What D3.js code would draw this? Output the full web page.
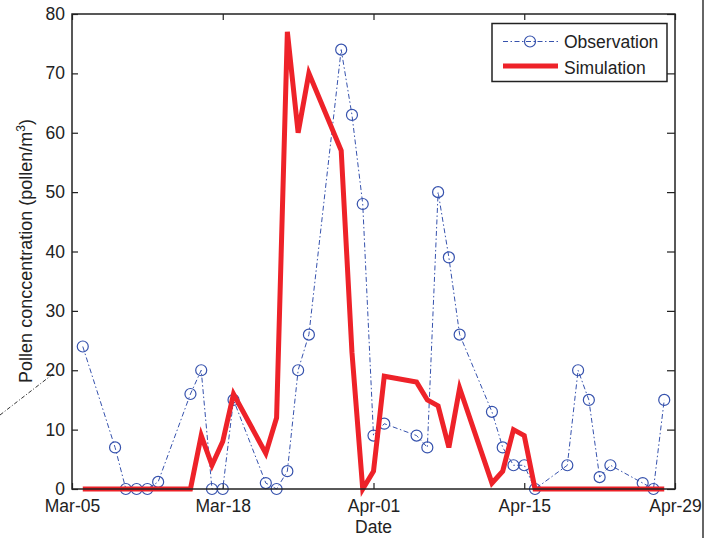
<!DOCTYPE html>
<html>
<head>
<meta charset="utf-8">
<script src="https://cdn.jsdelivr.net/npm/d3@7"></script>
<style>
  body { margin: 0; background: #fff; }
  text { font-family: Arial, "Liberation Sans", sans-serif; fill: #222; }
</style>
</head>
<body>
<div id="chart"></div>
<script>
// sampling days (weekdays only)
const dates = [
  "2010-03-05", "2010-03-08", "2010-03-09", "2010-03-10", "2010-03-11", "2010-03-12",
  "2010-03-15", "2010-03-16", "2010-03-17", "2010-03-18", "2010-03-19",
  "2010-03-22", "2010-03-23", "2010-03-24", "2010-03-25", "2010-03-26",
  "2010-03-29", "2010-03-30", "2010-03-31", "2010-04-01", "2010-04-02",
  "2010-04-05", "2010-04-06", "2010-04-07", "2010-04-08", "2010-04-09",
  "2010-04-12", "2010-04-13", "2010-04-14", "2010-04-15", "2010-04-16",
  "2010-04-19", "2010-04-20", "2010-04-21", "2010-04-22", "2010-04-23",
  "2010-04-26", "2010-04-27", "2010-04-28"
];
const observation = [
  24, 7, 0, 0, 0, 1.2,
  16, 20, 0, 0, 15,
  1, 0, 3, 20, 26,
  74, 63, 48, 9, 11,
  9, 7, 50, 39, 26,
  13, 7, 4, 4, 0,
  4, 20, 15, 2, 4,
  1, 0, 15
];
const simulation = [
  0, 0, 0, 0, 0, 0,
  0, 9, 4, 8, 16,
  6, 12, 77, 60, 70,
  57, 23, 0, 3, 19,
  18, 15, 14, 7, 17,
  1, 3, 10, 9, 0,
  0, 0, 0, 0, 0,
  0, 0, 0
];
const xTickDates = ["2010-03-04", "2010-03-18", "2010-04-01", "2010-04-15", "2010-04-29"];
const xTickLabels = ["Mar-05", "Mar-18", "Apr-01", "Apr-15", "Apr-29"];
const yTicks = [0, 10, 20, 30, 40, 50, 60, 70, 80];

const width = 713, height = 538;
const margin = { top: 14, right: 38, bottom: 49, left: 72 };
const blue = "#3652ad", red = "#ee2229";
const fs = "17.5px";
const parse = d3.utcParse("%Y-%m-%d");

const svg = d3.select("#chart").append("svg")
  .attr("width", width)
  .attr("height", height);

const x = d3.scaleUtc()
  .domain([parse("2010-03-04"), parse("2010-04-29")])
  .range([margin.left, width - margin.right]);
const y = d3.scaleLinear()
  .domain([0, 80])
  .range([height - margin.bottom, margin.top]);

const obs = dates.map((d, i) => ({ date: parse(d), value: observation[i] }));
const sim = dates.map((d, i) => ({ date: parse(d), value: simulation[i] }));

// stray figure lines outside the axes
svg.append("line")
  .attr("x1", 703).attr("x2", 703).attr("y1", 0).attr("y2", height)
  .attr("stroke", "#333").attr("stroke-width", 1.5);
svg.append("line")
  .attr("x1", 0).attr("y1", 415).attr("x2", 53).attr("y2", 374)
  .attr("stroke", "#333").attr("stroke-width", 1)
  .attr("stroke-dasharray", "4,2,1,2");

// axes (ticks inward, mirrored on top/right)
const tickVals = xTickDates.map(parse);
const xAxis = d3.axisBottom(x).tickValues(tickVals)
  .tickFormat((d, i) => xTickLabels[i]).tickSizeInner(-6).tickSizeOuter(0).tickPadding(11);
const yAxis = d3.axisLeft(y).tickValues(yTicks).tickSizeInner(-6).tickSizeOuter(0).tickPadding(7);

const gx = svg.append("g")
  .attr("transform", `translate(0,${height - margin.bottom})`)
  .call(xAxis);
const gy = svg.append("g")
  .attr("transform", `translate(${margin.left},0)`)
  .call(yAxis);
svg.append("g")
  .attr("transform", `translate(0,${margin.top})`)
  .call(d3.axisTop(x).tickValues(tickVals).tickFormat("").tickSizeInner(-6).tickSizeOuter(0));
svg.append("g")
  .attr("transform", `translate(${width - margin.right},0)`)
  .call(d3.axisRight(y).tickValues(yTicks).tickFormat("").tickSizeInner(-8).tickSizeOuter(0));

svg.selectAll(".domain").remove();
svg.selectAll(".tick line").attr("stroke", "#222").attr("stroke-width", 1.2);
gx.selectAll("text").style("font-size", fs).attr("fill", "#222");
gy.selectAll("text").style("font-size", fs).attr("fill", "#222");

// observation series
svg.append("path")
  .datum(obs)
  .attr("fill", "none")
  .attr("stroke", blue)
  .attr("stroke-width", 1)
  .attr("stroke-dasharray", "5,2.5,1.5,2.5")
  .attr("d", d3.line().x(d => x(d.date)).y(d => y(d.value)));
svg.selectAll(".obs")
  .data(obs)
  .join("circle")
  .attr("class", "obs")
  .attr("cx", d => x(d.date))
  .attr("cy", d => y(d.value))
  .attr("r", 5.5)
  .attr("fill", "none")
  .attr("stroke", blue)
  .attr("stroke-width", 1.2);

// simulation series
svg.append("path")
  .datum(sim)
  .attr("fill", "none")
  .attr("stroke", red)
  .attr("stroke-width", 5)
  .attr("stroke-linejoin", "miter")
  .attr("d", d3.line().x(d => x(d.date)).y(d => y(d.value)));

// frame
svg.append("rect")
  .attr("x", margin.left).attr("y", margin.top)
  .attr("width", width - margin.left - margin.right)
  .attr("height", height - margin.top - margin.bottom)
  .attr("fill", "none").attr("stroke", "#222").attr("stroke-width", 1.5);

// axis titles
svg.append("text")
  .attr("x", (margin.left + width - margin.right) / 2)
  .attr("y", 533)
  .attr("text-anchor", "middle")
  .style("font-size", fs)
  .text("Date");
const yl = svg.append("text")
  .attr("transform", "translate(32,251) rotate(-90)")
  .attr("text-anchor", "middle")
  .style("font-size", "18px");
yl.append("tspan").text("Pollen conccentration (pollen/m");
yl.append("tspan").attr("dy", -7).style("font-size", "12px").text("3");
yl.append("tspan").attr("dy", 7).text(")");

// legend
const lg = svg.append("g");
lg.append("rect")
  .attr("x", 492).attr("y", 23.5).attr("width", 175).attr("height", 58)
  .attr("fill", "#fff").attr("stroke", "#222").attr("stroke-width", 1.5);
lg.append("line")
  .attr("x1", 503).attr("x2", 558).attr("y1", 41.5).attr("y2", 41.5)
  .attr("stroke", blue).attr("stroke-width", 1)
  .attr("stroke-dasharray", "5,2.5,1.5,2.5");
lg.append("circle")
  .attr("cx", 530).attr("cy", 41.5).attr("r", 5.5)
  .attr("fill", "none").attr("stroke", blue).attr("stroke-width", 1.2);
lg.append("line")
  .attr("x1", 503).attr("x2", 558).attr("y1", 66).attr("y2", 66)
  .attr("stroke", red).attr("stroke-width", 5);
lg.append("text").attr("x", 564).attr("y", 48).style("font-size", fs).text("Observation");
lg.append("text").attr("x", 564).attr("y", 74).style("font-size", fs).text("Simulation");
</script>
</body>
</html>
